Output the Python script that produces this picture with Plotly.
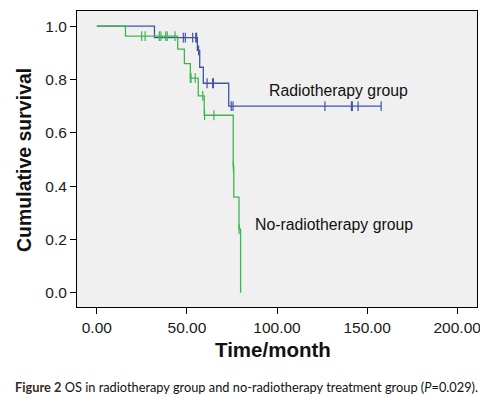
import numpy as np
import plotly.graph_objects as go

# Radiotherapy group (Kaplan-Meier steps)
rt_event_times = [0.0, 32.0, 55.8, 57.1, 59.1, 73.2]
rt_survival = [1.0, 0.957, 0.909, 0.846, 0.786, 0.700]
rt_last_time = 157.8
rt_censor_times = [48.0, 49.1, 53.2, 54.9, 55.4, 56.5, 61.2, 64.3, 64.7,
                   74.6, 75.6, 126.6, 141.3, 141.8, 145.0, 157.8]

# No-radiotherapy group
nrt_event_times = [0.0, 15.9, 44.9, 48.6, 51.9, 56.3, 59.6, 75.7, 76.0, 78.9, 79.8]
nrt_survival = [1.0, 0.963, 0.914, 0.860, 0.805, 0.739, 0.666, 0.474, 0.359, 0.239, 0.0]
nrt_last_time = 79.8
nrt_censor_times = [24.9, 26.8, 34.7, 35.6, 38.2, 39.1, 43.4, 51.9, 52.3, 54.6,
                    58.8, 59.8, 65.0, 75.8, 79.0]

x_ticks = [0, 50, 100, 150, 200]
y_ticks = [0.0, 0.2, 0.4, 0.6, 0.8, 1.0]

BLUE = "#3d55a8"
GREEN = "#3cb64c"


def step_value(times, surv, t):
    v = surv[0]
    for ti, si in zip(times, surv):
        if ti <= t:
            v = si
    return v


def curve(times, surv, last):
    xs = list(times) + [last]
    ys = list(surv) + [surv[-1]]
    return xs, ys


fig = go.Figure()

for times, surv, last, cens, col in [
    (rt_event_times, rt_survival, rt_last_time, rt_censor_times, BLUE),
    (nrt_event_times, nrt_survival, nrt_last_time, nrt_censor_times, GREEN),
]:
    xs, ys = curve(times, surv, last)
    fig.add_trace(go.Scatter(x=xs, y=ys, mode="lines", line=dict(color=col, width=1.3, shape="hv"),
                             hoverinfo="skip", showlegend=False))
    cy = [step_value(times, surv, t) for t in cens]
    fig.add_trace(go.Scatter(x=cens, y=cy, mode="markers",
                             marker=dict(symbol="line-ns", size=7, line=dict(color=col, width=1.2)),
                             hoverinfo="skip", showlegend=False))

font_main = "Arial, Liberation Sans, sans-serif"

# page body has an 8px default margin, so the figure is 8px smaller and offset
fig.update_layout(
    width=480, height=388,
    margin=dict(l=69, r=11, t=3, b=89),
    paper_bgcolor="white",
    plot_bgcolor="#f0f0f0",
    font=dict(family=font_main, color="#1a1a1a", size=15.5),
    xaxis=dict(range=[-11, 211], tickvals=x_ticks, ticktext=[f"{v:.2f}" for v in x_ticks],
               ticks="outside", ticklen=6, tickcolor="black", tickwidth=1,
               showline=True, linecolor="black", linewidth=1, mirror=True,
               showgrid=False, zeroline=False, tickfont=dict(size=15.5), automargin=False),
    yaxis=dict(range=[-0.053, 1.057], tickvals=y_ticks, ticktext=[f"{v:.1f}" for v in y_ticks],
               ticks="outside", ticklen=6, tickcolor="black", tickwidth=1,
               showline=True, linecolor="black", linewidth=1, mirror=True,
               showgrid=False, zeroline=False, tickfont=dict(size=15.5), automargin=False),
    annotations=[
        dict(x=94.6, y=0.759, xref="x", yref="y", text="Radiotherapy group", showarrow=False,
             xanchor="left", yanchor="middle", font=dict(size=15.8, color="#111")),
        dict(x=86.8, y=0.255, xref="x", yref="y", text="No-radiotherapy group", showarrow=False,
             xanchor="left", yanchor="middle", font=dict(size=15.8, color="#111")),
        dict(x=-0.1325, y=0.4966, xref="paper", yref="paper", text="<b>Cumulative survival</b>",
             showarrow=False, textangle=-90, xanchor="center", yanchor="middle",
             font=dict(size=19.5, color="#111")),
        dict(x=0.489, y=-0.145, xref="paper", yref="paper", text="<b>Time/month</b>",
             showarrow=False, xanchor="center", yanchor="middle", font=dict(size=20.5, color="#111")),
        dict(x=-0.16, y=-0.269, xref="paper", yref="paper",
             text="<b><span style='color:#3a2a1c'>Figure 2</span></b> OS in radiotherapy group and no-radiotherapy treatment group (<i>P</i>=0.029).",
             showarrow=False, xanchor="left", yanchor="middle",
             font=dict(family="Lato, sans-serif", size=12.8, color="#111")),
    ],
)

fig.write_html("out.html")
